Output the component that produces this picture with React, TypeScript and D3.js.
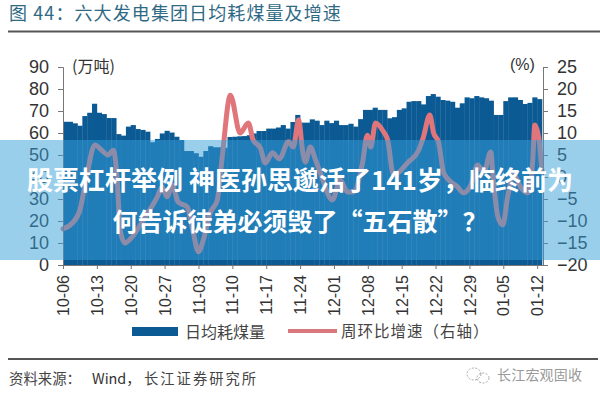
import { useEffect, useRef } from 'react';
import * as d3 from 'd3';

const coalValues = [
  65.1, 65.1, 64.4, 63.3, 67.7, 69.2, 73.3, 69.2, 68.6, 66.8,
  66.8, 59.5, 58.8, 62.9, 63.6, 61.8, 61.4, 60.6, 55.8, 57.3,
  59.8, 61, 60.2, 58.3, 56.8, 51.8, 51.8, 50.8, 49.2, 51.8,
  54, 53.5, 53.5, 53.3, 58.2, 58.3, 58.5, 58.6, 59, 59.8,
  60.9, 60.9, 62, 62, 62.5, 63.6, 62, 65, 68.2, 64.7,
  64.7, 66.2, 65.6, 63.6, 65.6, 64.5, 65.6, 63.6, 63.6, 64.2,
  62.9, 66.3, 70.5, 70.5, 71.5, 70.5, 70.5, 66.7, 67.2, 70.5,
  71.2, 74.2, 74.5, 74.5, 73, 76.8, 77.7, 76.5, 75, 74.7,
  74.2, 71.5, 73.5, 76.2, 75.8, 76.8, 76.2, 75.8, 74.7, 68.2,
  68.2, 74.5, 76.2, 76.2, 75, 73.2, 73.7, 76.2, 75.4,
];

// growth line read at its turning points: day position and value
const growthDays = [
  0, 1.9, 3.5, 5, 6.6, 8, 9.3, 10.4, 11.2, 11.8, 12.8, 14.3, 16.6, 19.5, 20.5, 21.5, 22.6, 23.8,
  25.7, 26.7, 28, 29, 30.4, 31.9, 32.9, 34.6, 36.6, 38.3, 39.3, 40.8, 41.8, 43.3, 44.7, 46.6,
  47.6, 48.7, 49.5, 50.1, 51.1, 52.2, 53.2, 55.7, 57.3, 58.8, 60, 61.9, 62.9, 63.6, 64.6, 66.3,
  67.1, 68.3, 69.2, 71.2, 73.5, 74.5, 75.8, 76.6, 77.6, 78.7, 81.6, 82.8, 84.3, 85.7, 87, 88.4,
  89, 89.9, 90.9, 91.9, 93.2, 94.6, 96.1, 97.1, 97.5, 98.3, 99,
];
const growthValues = [
  -11.8, -10.5, -7.5, 0.9, 7.3, 6.1, 5, 6.1, -0.7, -12, -15, -13.6, -9.8, -4.5, -2.3, -4.5, -1.8, -5.7,
  -6.8, -11.4, -17, -14.3, -8.2, -5.2, 4.5, 18.6, 10, 12.3, 8.4, 6.6, 3.2, 5.5, 4.1, 8,
  6.8, 13, 6.1, 3.4, 6.8, 3.9, 0.9, -5.2, -0.7, -3.4, -3.4, 3.2, 9.5, 6.8, 12.3, 10.2,
  8.4, 0.5, 0.9, 3.2, 6.1, 9.1, 14.1, 10, 8, 0.9, -2.3, -3.6, -1.8, 2.7, 1.1, 5.7,
  -1.4, -9.1, -10.9, -4.5, 0.5, -2.3, -3.6, 3.9, 11.8, 9.1, 1.1,
];

const tickLabels = [
  '10-06', '10-13', '10-20', '10-27', '11-03', '11-10', '11-17', '11-24',
  '12-01', '12-08', '12-15', '12-22', '12-29', '01-05', '01-12',
];
const leftTicks = [0, 10, 20, 30, 40, 50, 60, 70, 80, 90];
const rightTicks = [-20, -15, -10, -5, 0, 5, 10, 15, 20, 25];

const SANS = '"Liberation Sans", Arial, sans-serif';
const CJK = '"Noto Sans CJK SC", "Liberation Sans", sans-serif';
const BAR = '#0b5a94';
const LINE = '#e0767b';

export default function App() {
  const svgRef = useRef<SVGSVGElement>(null);

  useEffect(() => {
    if (!svgRef.current) return;
    const svg = d3.select(svgRef.current);
    svg.selectAll('*').remove();

    const left = 63;
    const right = 543;
    const top = 67;
    const bottom = 265;

    const band = d3.scaleBand<number>().domain(d3.range(coalValues.length)).range([left, 542]).padding(0);
    const xDay = d3.scaleLinear().domain([0, coalValues.length]).range([left, 542]);
    const yLeft = d3.scaleLinear().domain([0, 90]).range([bottom, top]);
    const yRight = d3.scaleLinear().domain([-20, 25]).range([bottom, top]);

    // Bars
    svg.append('g')
      .selectAll('rect')
      .data(coalValues)
      .enter().append('rect')
      .attr('x', (d, i) => band(i) as number)
      .attr('y', d => yLeft(d))
      .attr('width', band.bandwidth() + 0.3)
      .attr('height', d => bottom - yLeft(d))
      .attr('fill', BAR);

    // Growth line
    const line = d3.line<number>()
      .x((d, i) => xDay(growthDays[i]))
      .y(d => yRight(d))
      .curve(d3.curveMonotoneX);

    svg.append('path')
      .attr('d', line(growthValues) || '')
      .attr('fill', 'none')
      .attr('stroke', LINE)
      .attr('stroke-width', 5)
      .attr('stroke-linejoin', 'round')
      .attr('stroke-linecap', 'round');

    // Axes
    const styleAxis = (g: d3.Selection<SVGGElement, unknown, null, undefined>) => {
      g.selectAll('path').attr('stroke', '#777').attr('stroke-width', 1);
      g.selectAll('line').attr('stroke', '#777').attr('stroke-width', 1);
      g.selectAll('text')
        .attr('fill', '#333')
        .style('font-family', SANS);
    };

    const axisL = svg.append('g').attr('transform', `translate(${left},0)`);
    axisL.call(d3.axisLeft(yLeft).tickValues(leftTicks).tickSize(5).tickSizeOuter(5).tickPadding(9));
    styleAxis(axisL);
    axisL.selectAll('text').style('font-size', '18px');

    const axisR = svg.append('g').attr('transform', `translate(${right},0)`);
    axisR.call(d3.axisRight(yRight).tickValues(rightTicks).tickSize(5).tickSizeOuter(5).tickPadding(9));
    styleAxis(axisR);
    axisR.selectAll('text').style('font-size', '18px');

    const xTicks = tickLabels.map((d, i) => i * 7);
    const axisB = svg.append('g').attr('transform', `translate(0,${bottom})`);
    axisB.call(
      d3.axisBottom(xDay)
        .tickValues(xTicks)
        .tickSize(4)
        .tickSizeOuter(0)
        .tickFormat((d, i) => tickLabels[i])
    );
    styleAxis(axisB);
    axisB.select('path').attr('d', `M${left},0.5H${right}`);
    axisB.selectAll('text')
      .style('font-size', '16px')
      .style('text-anchor', 'end')
      .attr('transform', 'rotate(-90)')
      .attr('x', -10)
      .attr('y', 0)
      .attr('dy', '0.35em');

    const addText = (
      str: string,
      x: number,
      y: number,
      size: number,
      fill: string,
      family = CJK,
      anchor = 'start'
    ) =>
      svg.append('text')
        .attr('x', x)
        .attr('y', y)
        .attr('fill', fill)
        .attr('text-anchor', anchor)
        .style('font-family', family)
        .style('font-size', `${size}px`)
        .text(str);

    // Units
    addText('(万吨)', 72, 72, 16, '#333');
    addText('(%)', 510, 70, 16, '#333', SANS);

    // Title and rules
    addText('图 44：六大发电集团日均耗煤量及增速', 9, 20, 18, '#2f6a85')
      .style('letter-spacing', '1.1px');
    svg.append('rect').attr('x', 8).attr('y', 30.5).attr('width', 592).attr('height', 2).attr('fill', '#555');
    svg.append('rect').attr('x', 8).attr('y', 358).attr('width', 590).attr('height', 2).attr('fill', '#555');

    // Legend
    svg.append('rect').attr('x', 132).attr('y', 327).attr('width', 46).attr('height', 9).attr('fill', BAR);
    addText('日均耗煤量', 185, 338, 16, '#444');
    svg.append('line')
      .attr('x1', 288).attr('x2', 337).attr('y1', 331).attr('y2', 331)
      .attr('stroke', '#d9787d').attr('stroke-width', 4);
    addText('周环比增速（右轴）', 341, 337, 15.5, '#444').style('letter-spacing', '1px');

    // Footer
    addText('资料来源：', 9, 384, 14.4, '#444');
    addText('Wind，', 92, 384, 14.4, '#333');
    addText('长江证券研究所', 144, 384, 14.3, '#444').style('letter-spacing', '2px');

    // Watermark
    const mark = svg.append('g').attr('fill', 'none').attr('stroke', '#aaa').attr('stroke-width', 1);
    mark.append('ellipse').attr('cx', 474).attr('cy', 374).attr('rx', 7).attr('ry', 6).attr('stroke-dasharray', '2 1.5');
    mark.append('ellipse').attr('cx', 483).attr('cy', 378).attr('rx', 6).attr('ry', 5).attr('stroke-dasharray', '2 1.5');
    addText('长江宏观固收', 497, 380, 14, '#999').style('letter-spacing', '0.2px');

    // Banner over the chart
    svg.append('rect').attr('x', 0).attr('y', 140).attr('width', 600).attr('height', 120).attr('fill', 'rgba(54,160,217,0.5)');
    addText('股票杠杆举例 神医孙思邈活了141岁，临终前为', 300, 190, 26, '#fff', CJK, 'middle').style('font-weight', '700');
    addText('何告诉徒弟必须毁了“五石散”？', 300, 231, 25, '#fff', CJK, 'middle').style('font-weight', '700');
  }, []);

  return (
    <svg
      ref={svgRef}
      width={600}
      height={400}
      style={{ position: 'absolute', left: 0, top: 0, background: '#fff' }}
    />
  );
}
